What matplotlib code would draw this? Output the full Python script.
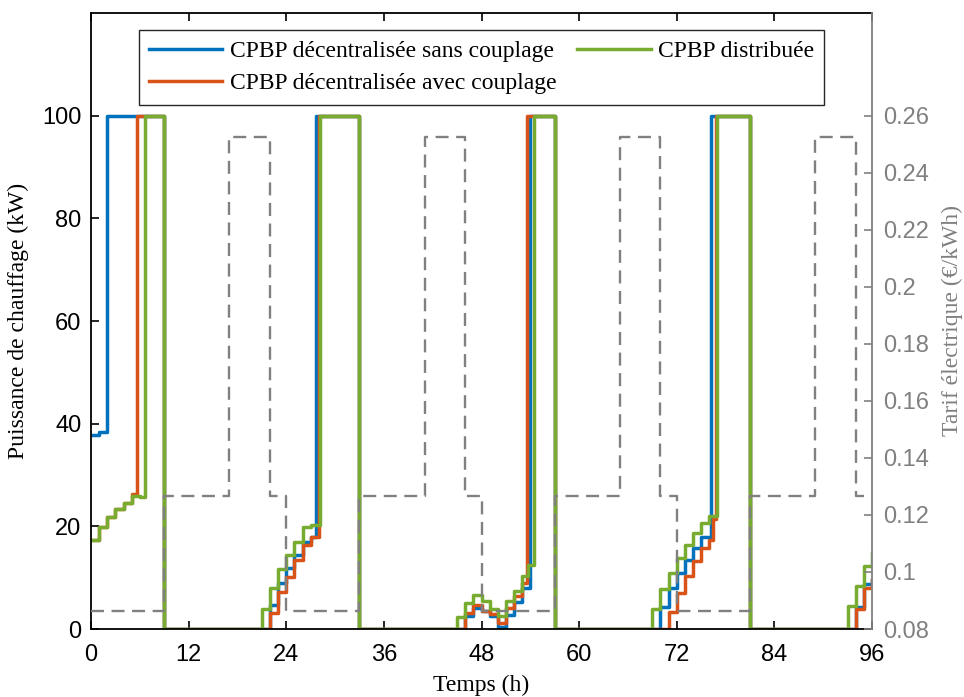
import matplotlib
matplotlib.use("Agg")
import matplotlib.pyplot as plt
from matplotlib.ticker import FuncFormatter

# ---- data ----
blue_t = [0, 1, 2, 9, 22, 23, 24, 25, 26, 27, 27.7, 33,
          46, 47, 48, 49, 50, 51, 52, 53, 54, 57,
          70, 71, 72, 73, 74, 75, 76.2, 81, 94, 95, 96]
blue_v = [37.8, 38.3, 100, 0, 4.7, 8.9, 11.8, 14.4, 17.0, 18.0, 100, 0,
          2.5, 4.0, 3.6, 2.6, 0.3, 2.8, 5.2, 8.0, 100, 0,
          4.3, 8.0, 11.0, 13.5, 15.8, 18.0, 100, 0, 4.3, 8.8, 9.6]

orange_t = [0, 1, 2, 3, 4, 5, 5.6, 9, 22, 23, 24, 25, 26, 27, 28, 33,
            46, 47, 48, 49, 50, 51, 52, 53, 53.6, 57,
            71, 72, 73, 74, 75, 76, 76.5, 76.8, 81, 94, 95, 96]
orange_v = [17.3, 19.8, 21.9, 23.3, 24.6, 26.3, 100, 0, 3.1, 7.3, 10.2, 13.5, 16.4, 18.0, 100, 0,
            3.2, 4.7, 3.6, 3.0, 1.2, 4.0, 6.5, 9.0, 100, 0,
            3.3, 7.0, 10.3, 13.3, 15.8, 17.4, 21.5, 100, 0, 3.9, 8.0, 9.6]

green_t = [0, 1, 2, 3, 4, 5, 6, 6.6, 9, 21, 22, 23, 24, 25, 26, 27, 28.1, 33,
           45, 46, 47, 48, 49, 50, 51, 52, 53, 53.7, 54.4, 57,
           69, 70, 71, 72, 73, 74, 75, 76, 76.9, 81, 93, 94, 95, 96]
green_v = [17.3, 19.8, 21.9, 23.3, 24.6, 26.0, 25.7, 100, 0, 3.8, 7.9, 11.6, 14.5, 16.9, 19.8, 20.3, 100, 0,
           2.3, 5.1, 6.7, 5.4, 3.8, 2.5, 5.4, 7.5, 10.3, 12.5, 100, 0,
           3.9, 7.7, 10.9, 13.8, 16.3, 18.7, 20.7, 22.1, 100, 0, 4.4, 8.3, 12.2, 14.9]

tarif_t = [0, 9, 17, 22, 24, 33, 41, 46, 48, 57, 65, 70, 72, 81, 89, 94, 96]
tarif_v = [0.0863, 0.1267, 0.2525, 0.1267, 0.0863, 0.1267, 0.2525, 0.1267, 0.0863,
           0.1267, 0.2525, 0.1267, 0.0863, 0.1267, 0.2525, 0.1267, 0.1267]

labels = ["CPBP décentralisée sans couplage",
          "CPBP décentralisée avec couplage",
          "CPBP distribuée"]
x_ticks = [0, 12, 24, 36, 48, 60, 72, 84, 96]
y_ticks = [0, 20, 40, 60, 80, 100]
y2_ticks = [0.08, 0.10, 0.12, 0.14, 0.16, 0.18, 0.20, 0.22, 0.24, 0.26]

# ---- style ----
C_BLUE = "#0072BD"
C_ORANGE = "#D95319"
C_GREEN = "#77AC30"
C_GRAY = "#808080"
SERIF = "Liberation Serif"
SANS = "Liberation Sans"
FS = 17

fig = plt.figure(figsize=(9.64, 6.97), dpi=100)
ax = fig.add_axes([91 / 964, 1 - 629 / 697, (872 - 91) / 964, (629 - 13) / 697])
ax2 = ax.twinx()

lw = 2.5
l1, = ax.step(blue_t, blue_v, where="post", color=C_BLUE, lw=lw)
l2, = ax.step(orange_t, orange_v, where="post", color=C_ORANGE, lw=lw)
l3, = ax.step(green_t, green_v, where="post", color=C_GREEN, lw=lw)

ax2.step(tarif_t, tarif_v, where="post", color=C_GRAY, lw=1.7,
         linestyle=(0, (5.5, 3.2)))

ax.set_xlim(0, 96)
ax.set_ylim(0, 120)
ax2.set_ylim(0.08, 0.08 + 0.18 * 1.2)

ax.set_xticks(x_ticks)
ax.set_yticks(y_ticks)
ax2.set_yticks(y2_ticks)
ax2.yaxis.set_major_formatter(FuncFormatter(lambda v, p: "%g" % round(v, 2)))

for a in (ax, ax2):
    for lab in a.get_xticklabels() + a.get_yticklabels():
        lab.set_fontfamily(SANS)
        lab.set_fontsize(FS)

ax.tick_params(axis="both", direction="in", length=6, width=1.2, colors="black",
               top=True, pad=7)
ax.tick_params(axis="x", pad=11)
ax2.tick_params(axis="y", direction="in", length=6, width=1.2, colors=C_GRAY, pad=8)

for s in ("left", "bottom", "top"):
    ax.spines[s].set_linewidth(1.3)
    ax.spines[s].set_color("black")
for s in ("left", "bottom", "top"):
    ax2.spines[s].set_visible(False)
ax2.spines["right"].set_color(C_GRAY)
ax2.spines["right"].set_linewidth(1.3)
ax.spines["right"].set_visible(False)

ax.set_xlabel("Temps (h)", fontfamily=SERIF, fontsize=FS, labelpad=6)
ax.set_ylabel("Puissance de chauffage (kW)", fontfamily=SERIF, fontsize=FS, labelpad=9)
ax2.set_ylabel("Tarif électrique (€/kWh)", fontfamily=SERIF, fontsize=FS,
               color=C_GRAY, labelpad=9)

leg = ax2.legend([l1, l2, l3], labels, ncol=2, loc="upper center",
                 bbox_to_anchor=(0.5, 1 - 17 / 616),
                 prop={"family": SERIF, "size": FS},
                 frameon=True, fancybox=False, edgecolor="#262626", framealpha=1,
                 handlelength=3.1, handletextpad=0.3, columnspacing=0.9,
                 labelspacing=0.45, borderpad=0.45, borderaxespad=0)
leg.get_frame().set_linewidth(1.0)

fig.savefig("out.png", dpi=100)
